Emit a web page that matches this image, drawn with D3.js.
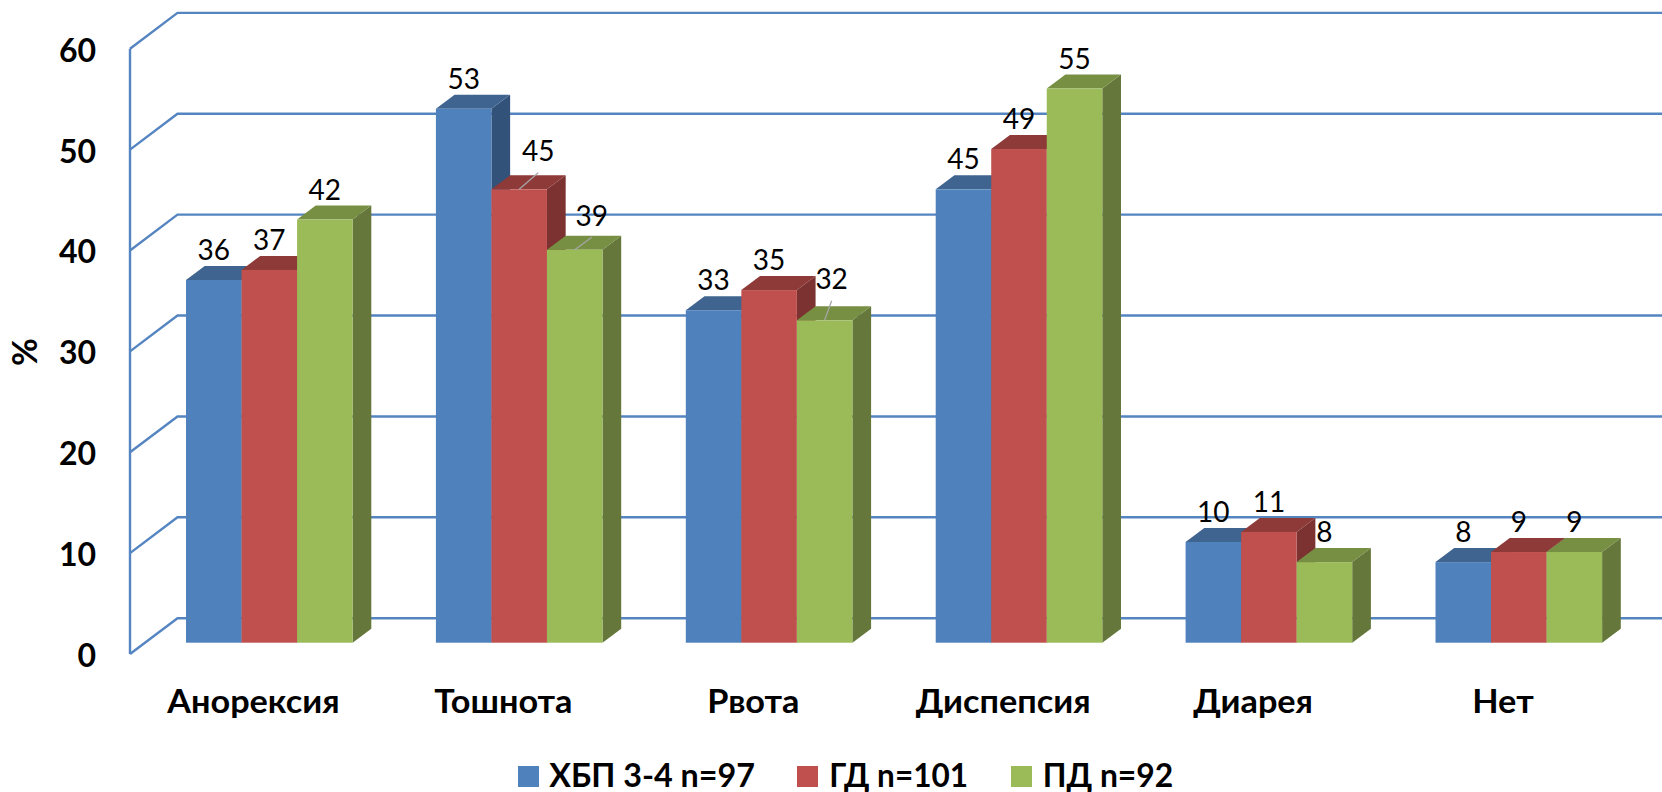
<!DOCTYPE html>
<html>
<head>
<meta charset="utf-8">
<script src="https://d3js.org/d3.v7.min.js"></script>
<style>
  html, body { margin: 0; padding: 0; background: #fff; }
  svg { display: block; }
</style>
</head>
<body>
<svg id="chart" width="1662" height="792"></svg>
<script>
// Symptom frequency by patient group
const categories = ["Анорексия", "Тошнота", "Рвота", "Диспепсия", "Диарея", "Нет"];
const seriesNames = ["ХБП 3-4 n=97", "ГД n=101", "ПД n=92"];
const ckdValues = [36, 53, 33, 45, 10, 8];
const hdValues = [37, 45, 35, 49, 11, 9];
const pdValues = [42, 39, 32, 55, 8, 9];
const yTicks = [0, 10, 20, 30, 40, 50, 60];

const seriesValues = [ckdValues, hdValues, pdValues];
const faceColors = ["#4F81BD", "#C0504D", "#9BBB59"];
const topColors = ["#3F648F", "#8E3A38", "#778F42"];
const sideColors = ["#335279", "#7B3230", "#65773A"];

// Labels pulled away from their bars, keyed "category:series" -> [dx, dy]; these get a leader line
const pulledLabels = { "1:1": [19, -8], "1:2": [17, -4], "2:2": [7, -11] };

const svg = d3.select("#chart");
const WALL = "#5585C1";
const FONT = "Lato, Carlito, 'Open Sans', sans-serif";

// Oblique projection: depth of the wall behind the axis and of each bar
const wallDx = 47.5, wallDy = -35.8;
const barDx = 18.7, barDy = -14;

const y = d3.scaleLinear().domain([0, 60]).range([654, 48.7]);
const yBar = d3.scaleLinear().domain([0, 60]).range([642.7, 38.2]);
const x = d3.scaleBand().domain(categories).range([144.35, 1643.75])
  .paddingInner(1 / 3).paddingOuter(1 / 6);
const xSeries = d3.scaleBand().domain(d3.range(3)).range([0, x.bandwidth()]);

// Widen bold text a little without making it taller
function widen(selection, factor) {
  selection.each(function () {
    const node = d3.select(this);
    node.attr("textLength", this.getComputedTextLength() * factor)
      .attr("lengthAdjust", "spacingAndGlyphs");
  });
}

// Back wall grid and the angled floor/side lines
const wall = svg.append("g").attr("fill", "none").attr("stroke", WALL).attr("stroke-width", 2.4);
wall.selectAll("path.grid").data(yTicks).join("path")
  .attr("class", "grid")
  .attr("d", d => `M130,${y(d)}L${130 + wallDx},${y(d) + wallDy}H1662`);
wall.append("path").attr("d", `M130,${y(60)}V${y(0)}`);

// Bars: for each category, left to right so that a later bar covers its neighbour's side
const groups = svg.selectAll("g.group").data(categories).join("g")
  .attr("class", "group")
  .attr("transform", d => `translate(${x(d)},0)`);

groups.each(function (cat, ci) {
  const g = d3.select(this);
  seriesValues.forEach((values, si) => {
    const v = values[ci];
    const x0 = xSeries(si), w = xSeries.bandwidth(), x1 = x0 + w;
    const top = yBar(v), bottom = yBar(0);
    g.append("path").attr("fill", sideColors[si])
      .attr("d", `M${x1},${top}l${barDx},${barDy}V${bottom + barDy}L${x1},${bottom}Z`);
    g.append("path").attr("fill", topColors[si])
      .attr("d", `M${x0},${top}l${barDx},${barDy}h${w}l${-barDx},${-barDy}Z`);
    g.append("rect").attr("fill", faceColors[si])
      .attr("x", x0).attr("y", top).attr("width", w).attr("height", bottom - top);
  });
});

// Value labels sit above everything, with leader lines where they were pulled aside
groups.each(function (cat, ci) {
  const g = d3.select(this);
  seriesValues.forEach((values, si) => {
    const v = values[ci];
    const cx = xSeries(si) + xSeries.bandwidth() / 2;
    const top = yBar(v);
    const pull = pulledLabels[`${ci}:${si}`] || [0, 0];
    const lx = cx + pull[0], ly = top - 20 + pull[1];
    if (pulledLabels[`${ci}:${si}`]) {
      g.append("line").attr("stroke", "#A6A6A6").attr("stroke-width", 1.3)
        .attr("x1", cx).attr("y1", top).attr("x2", lx).attr("y2", ly + 11.5);
    }
    g.append("text").attr("x", lx).attr("y", ly)
      .attr("text-anchor", "middle")
      .attr("font-family", FONT).attr("font-size", 28).attr("fill", "#000")
      .text(v);
  });
});

// Value axis labels
const yAxis = svg.append("g").attr("transform", "translate(96,1)")
  .call(d3.axisLeft(y).tickValues(yTicks).tickSize(0).tickPadding(0));
yAxis.select(".domain").remove();
yAxis.selectAll("text").attr("font-family", FONT).attr("font-size", 32)
  .attr("font-weight", 700).attr("fill", "#000").attr("dy", "0.36em");

// Category labels are centred on the floor, left of the bars' own centres
const xAxis = svg.append("g").attr("transform", "translate(-15.8,712.5)")
  .call(d3.axisBottom(x).tickSize(0).tickPadding(0));
xAxis.select(".domain").remove();
xAxis.selectAll("text").attr("font-family", FONT).attr("font-size", 32)
  .attr("font-weight", 700).attr("fill", "#000").attr("y", 0).attr("dy", 0)
  .call(widen, 1.07);

// Axis title
svg.append("text").attr("transform", "translate(36.5,352) rotate(-90)")
  .attr("text-anchor", "middle")
  .attr("font-family", FONT).attr("font-size", 34).attr("font-weight", 700)
  .text("%");

// Legend
const legendSwatchX = [518, 797, 1011];
const legendTextX = [549.3, 829.3, 1042.7];
const legendTextWidth = [205.7, 138.7, 130.6];
const legend = svg.selectAll("g.legend").data(seriesNames).join("g")
  .attr("class", "legend");
legend.append("rect")
  .attr("x", (d, i) => legendSwatchX[i]).attr("y", 766).attr("width", 21).attr("height", 21)
  .attr("fill", (d, i) => faceColors[i]);
legend.append("text")
  .attr("x", (d, i) => legendTextX[i]).attr("y", 786.5)
  .attr("font-family", FONT).attr("font-size", 32).attr("font-weight", 700)
  .attr("textLength", (d, i) => legendTextWidth[i]).attr("lengthAdjust", "spacingAndGlyphs")
  .text(d => d);
</script>
</body>
</html>
